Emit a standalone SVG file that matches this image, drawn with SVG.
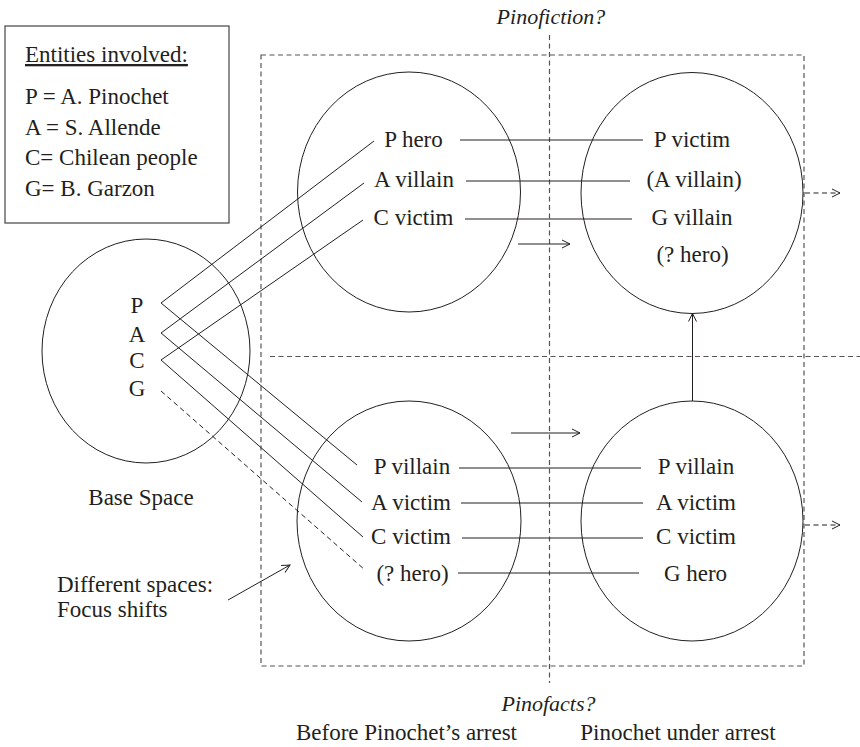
<svg xmlns="http://www.w3.org/2000/svg" width="860" height="747" viewBox="0 0 860 747">
  <style>
    text { font-family: "Liberation Serif", "Times New Roman", serif; font-size: 23px; fill: #231f20; }
    .c { text-anchor: middle; }
    .it { font-style: italic; font-size: 22px; }
    .space { fill: none; stroke: #231f20; stroke-width: 1; }
    .link { stroke: #231f20; stroke-width: 1; fill: none; }
    .dash { stroke: #231f20; stroke-width: 1; stroke-dasharray: 5 3.5; fill: none; }
    .frame { stroke: #555; stroke-width: 1.2; stroke-dasharray: 5 3.5; fill: none; }
  </style>
  <defs>
    <marker id="head" viewBox="0 0 10 10" refX="9" refY="5" markerWidth="10" markerHeight="10" markerUnits="userSpaceOnUse" orient="auto">
      <path d="M1,1 L9,5 L1,9" fill="none" stroke="#231f20" stroke-width="1"/>
    </marker>
  </defs>

  <!-- legend -->
  <g id="legend">
    <rect x="5" y="26" width="224" height="197" fill="none" stroke="#444" stroke-width="1.2"/>
    <text x="25" y="62" text-decoration="underline">Entities involved:</text>
    <text x="25" y="104">P = A. Pinochet</text>
    <text x="25" y="134.5">A = S. Allende</text>
    <text x="25" y="165">C= Chilean people</text>
    <text x="25" y="195.5">G= B. Garzon</text>
  </g>

  <!-- frame around the four spaces and its quadrant dividers -->
  <g id="frame">
    <rect class="frame" x="261" y="55" width="543" height="611"/>
    <line class="frame" x1="549.5" y1="35" x2="549.5" y2="683"/>
    <line class="frame" x1="270" y1="356.5" x2="860" y2="356.5"/>
    <text class="c it" x="551" y="24">Pinofiction?</text>
    <text class="c it" x="548.5" y="711">Pinofacts?</text>
    <text class="c" x="406.5" y="740">Before Pinochet’s arrest</text>
    <text class="c" x="678" y="740">Pinochet under arrest</text>
  </g>

  <!-- base space -->
  <g id="base-space">
    <ellipse class="space" cx="146" cy="351" rx="104" ry="112"/>
    <text class="c" x="137" y="312.5">P</text>
    <text class="c" x="137" y="341.5">A</text>
    <text class="c" x="137" y="368">C</text>
    <text class="c" x="137" y="395.5">G</text>
    <text class="c" x="141" y="505">Base Space</text>
  </g>

  <!-- fiction space before arrest -->
  <g id="fiction-before">
    <ellipse class="space" cx="409" cy="192" rx="111.5" ry="120"/>
    <text class="c" x="413.5" y="147">P hero</text>
    <text class="c" x="414" y="187">A villain</text>
    <text class="c" x="413.5" y="225">C victim</text>
  </g>

  <!-- fiction space under arrest -->
  <g id="fiction-after">
    <ellipse class="space" cx="692" cy="193" rx="111" ry="120.5"/>
    <text class="c" x="692" y="147">P victim</text>
    <text class="c" x="694" y="187">(A villain)</text>
    <text class="c" x="692" y="225">G villain</text>
    <text class="c" x="692.5" y="262">(? hero)</text>
  </g>

  <!-- fact space before arrest -->
  <g id="facts-before">
    <ellipse class="space" cx="409" cy="521" rx="112" ry="120"/>
    <text class="c" x="412" y="474">P villain</text>
    <text class="c" x="411" y="510">A victim</text>
    <text class="c" x="411" y="544">C victim</text>
    <text class="c" x="412.5" y="580.5">(? hero)</text>
  </g>

  <!-- fact space under arrest -->
  <g id="facts-after">
    <ellipse class="space" cx="692" cy="521" rx="111" ry="120"/>
    <text class="c" x="696" y="474">P villain</text>
    <text class="c" x="696" y="510">A victim</text>
    <text class="c" x="696" y="544">C victim</text>
    <text class="c" x="695.5" y="580.5">G hero</text>
  </g>

  <!-- annotation -->
  <g id="note">
    <text x="57" y="591.5">Different spaces:</text>
    <text x="57" y="616.5">Focus shifts</text>
  </g>

  <!-- connectors -->
  <g id="connectors">
    <!-- base space to fiction space -->
    <line class="link" x1="161" y1="303" x2="374" y2="141"/>
    <line class="link" x1="161" y1="333" x2="364" y2="183"/>
    <line class="link" x1="161" y1="360" x2="363" y2="220"/>
    <!-- base space to fact space -->
    <line class="link" x1="161" y1="303" x2="357" y2="465"/>
    <line class="link" x1="161" y1="333" x2="362" y2="502"/>
    <line class="link" x1="161" y1="360" x2="363" y2="537"/>
    <line class="dash" x1="161" y1="391" x2="365" y2="570"/>
    <!-- counterparts across time, fiction -->
    <line class="link" x1="460" y1="140" x2="643" y2="140"/>
    <line class="link" x1="466" y1="181" x2="630" y2="181"/>
    <line class="link" x1="465" y1="219" x2="632" y2="219"/>
    <!-- counterparts across time, facts -->
    <line class="link" x1="459" y1="468" x2="641" y2="468"/>
    <line class="link" x1="461" y1="503" x2="643" y2="503"/>
    <line class="link" x1="462" y1="538" x2="643" y2="538"/>
    <line class="link" x1="458" y1="573" x2="639" y2="573"/>
    <!-- time arrows -->
    <line class="link" x1="518" y1="244" x2="570" y2="244" marker-end="url(#head)"/>
    <line class="link" x1="511" y1="433" x2="580" y2="433" marker-end="url(#head)"/>
    <!-- facts feeding fiction -->
    <line class="link" x1="692.5" y1="401" x2="692.5" y2="313.5" marker-end="url(#head)"/>
    <!-- continuation arrows -->
    <line class="dash" x1="805" y1="193" x2="840" y2="193" marker-end="url(#head)"/>
    <line class="dash" x1="805" y1="525" x2="840" y2="525" marker-end="url(#head)"/>
    <!-- annotation pointer -->
    <line class="link" x1="228" y1="600" x2="290" y2="565" marker-end="url(#head)"/>
  </g>
</svg>
